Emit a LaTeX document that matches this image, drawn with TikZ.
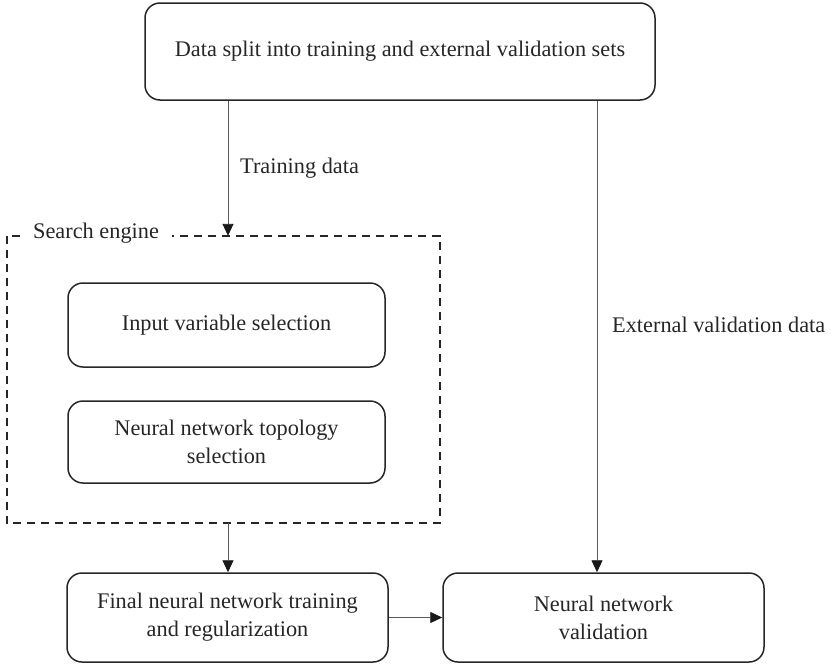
\documentclass[tikz,border=0pt]{standalone}
\usepackage{fontspec}
\setmainfont{Liberation Serif}
\usetikzlibrary{arrows.meta}
\begin{document}
\begin{tikzpicture}[x=1pt,y=-1pt,
  font=\fontsize{22.3}{28}\selectfont,
  box/.style={draw=black!85, line width=1.5pt, rounded corners=15pt, align=center, inner sep=0pt, text=black!85},
  arr/.style={draw=black!65, line width=0.9pt, -{Triangle[length=12pt,width=11pt,color=black!90]}},
  lbl/.style={inner sep=0pt, text=black!85}
]
\useasboundingbox (0,0) rectangle (836,667);
\node[box, minimum width=510pt, minimum height=97pt] (top) at (400,51.5) {Data split into training and external validation sets};
\node[draw=none, minimum width=433pt, minimum height=287pt, inner sep=0pt] (engine) at (223.5,379.5) {};
\draw[black!85, line width=1.6pt, dash pattern=on 8pt off 6pt] (engine.north west) rectangle (engine.south east);
\node[lbl, fill=white, inner xsep=13pt, inner ysep=4pt, anchor=west] (se) at (20,233) {Search engine};
\node[box, minimum width=317pt, minimum height=84pt] (input) at (226.5,325) {Input variable selection};
\node[box, minimum width=317pt, minimum height=82pt] (topo) at (226.5,442) {Neural network topology\\selection};
\node[box, minimum width=321pt, minimum height=89pt] (final) at (227.5,617.5) {Final neural network training\\and regularization};
\node[box, minimum width=321pt, minimum height=89pt] (val) at (603.5,617.5) {Neural network\\validation};
\coordinate (tx) at (228,0);
\coordinate (ex) at (597,0);
\draw[arr] (top.south -| tx) -- (engine.north -| tx);
\draw[arr] (engine.south -| tx) -- (final.north -| tx);
\draw[arr] (final.east) -- (val.west);
\draw[arr] (top.south -| ex) -- (val.north -| ex);
\node[lbl, anchor=west] (tdl) at (240,168) {Training data};
\node[lbl, anchor=west] (evl) at (612,325) {External validation data};
\end{tikzpicture}
\end{document}
